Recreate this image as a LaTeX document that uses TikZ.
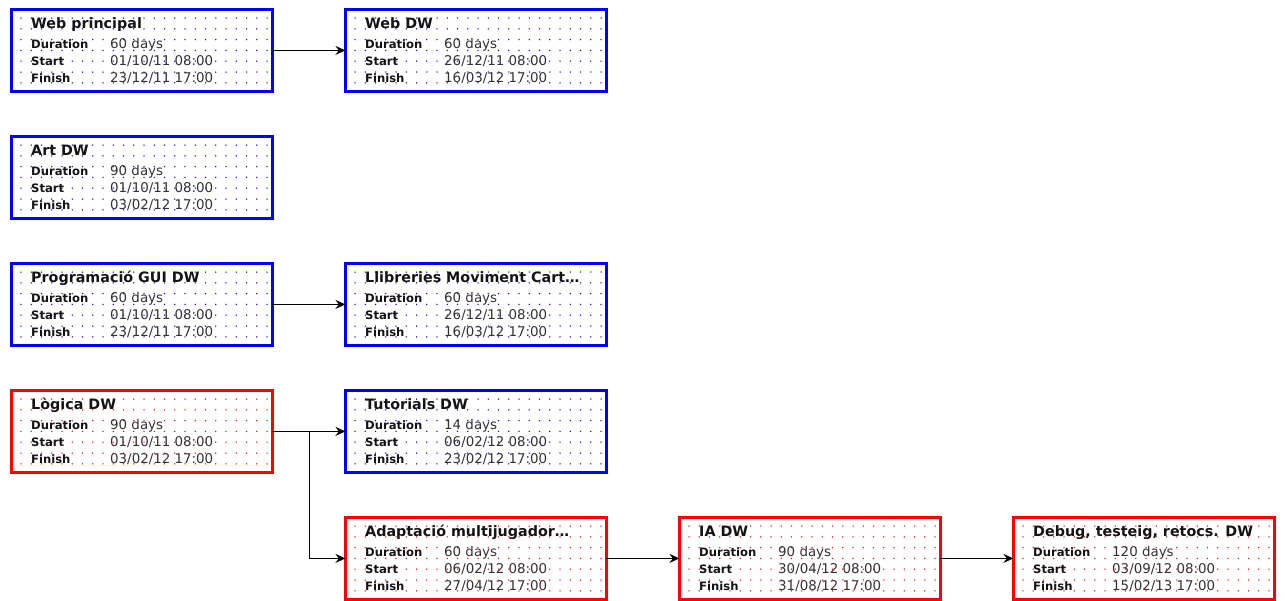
\documentclass[tikz,border=0pt]{standalone}
\usepackage{fontspec}
\setmainfont{DejaVu Sans}
\usetikzlibrary{arrows.meta,calc}
\definecolor{tblue}{RGB}{0,0,255}
\definecolor{tred}{RGB}{255,0,0}
\definecolor{ttext}{RGB}{20,20,20}
\definecolor{tval}{RGB}{50,50,50}
\tikzset{
 taskframe/.style={draw=#1, line width=2.8pt, outer sep=0pt, minimum width=261pt, minimum height=82pt, inner sep=0pt, anchor=north west, fill=white},
 ttl/.style={anchor=base west, inner sep=0pt, text=ttext, font=\bfseries\fontsize{14.3}{16}\selectfont},
 lbl/.style={anchor=base west, inner sep=0pt, text=ttext, font=\bfseries\fontsize{11.6}{13}\selectfont},
 val/.style={anchor=base west, inner sep=0pt, text=tval, font=\fontsize{13.4}{15}\selectfont},
 link/.style={draw=black, line width=1pt, -{Stealth[length=10pt,width=9pt,inset=3.5pt]}},
}
\newcommand\taskbox[8]{%
 \node[taskframe=#4] (#1) at (#2+1.4,#3+1.4) {};
 \foreach \i in {0,...,24}{\foreach \j in {0,...,6}{\fill[#4] (#2+11+10.25*\i,#3+10+10.8*\j) circle (0.75pt);}}
 \node[ttl] (#1-t) at (#2+21,#3+20) {#5};
 \node[lbl] (#1-dl) at (#2+21,#3+40) {Duration};
 \node[lbl] (#1-sl) at (#2+21,#3+57) {Start};
 \node[lbl] (#1-fl) at (#2+21,#3+74) {Finish};
 \node[val] (#1-dv) at (#2+100,#3+40) {#6};
 \node[val] (#1-sv) at (#2+100,#3+57) {#7};
 \node[val] (#1-fv) at (#2+100,#3+74) {#8};
}
\begin{document}
\begin{tikzpicture}[x=1pt,y=-1pt]
\useasboundingbox[fill=white] (0,0) rectangle (1285,600);
\taskbox{web}{10}{8}{tblue}{Web principal}{60 days}{01/10/11 08:00}{23/12/11 17:00}
\taskbox{webdw}{344}{8}{tblue}{Web DW}{60 days}{26/12/11 08:00}{16/03/12 17:00}
\taskbox{art}{10}{135}{tblue}{Art DW}{90 days}{01/10/11 08:00}{03/02/12 17:00}
\taskbox{gui}{10}{262}{tblue}{Programació GUI DW}{60 days}{01/10/11 08:00}{23/12/11 17:00}
\taskbox{llib}{344}{262}{tblue}{Llibreries Moviment Cart…}{60 days}{26/12/11 08:00}{16/03/12 17:00}
\taskbox{logica}{10}{389}{tred}{Lògica DW}{90 days}{01/10/11 08:00}{03/02/12 17:00}
\taskbox{tut}{344}{389}{tblue}{Tutorials DW}{14 days}{06/02/12 08:00}{23/02/12 17:00}
\taskbox{adapt}{344}{516}{tred}{Adaptació multijugador…}{60 days}{06/02/12 08:00}{27/04/12 17:00}
\taskbox{ia}{678}{516}{tred}{IA DW}{90 days}{30/04/12 08:00}{31/08/12 17:00}
\taskbox{debug}{1012}{516}{tred}{Debug, testeig, retocs. DW}{120 days}{03/09/12 08:00}{15/02/13 17:00}
\draw[link] (web.east) -- (webdw.west);
\draw[link] (gui.east) -- (llib.west);
\draw[link] (logica.east) -- (tut.west);
\draw[link] (logica.east) -- ($(logica.east)+(37,0)$) |- (adapt.west);
\draw[link] (adapt.east) -- (ia.west);
\draw[link] (ia.east) -- (debug.west);
\end{tikzpicture}
\end{document}
